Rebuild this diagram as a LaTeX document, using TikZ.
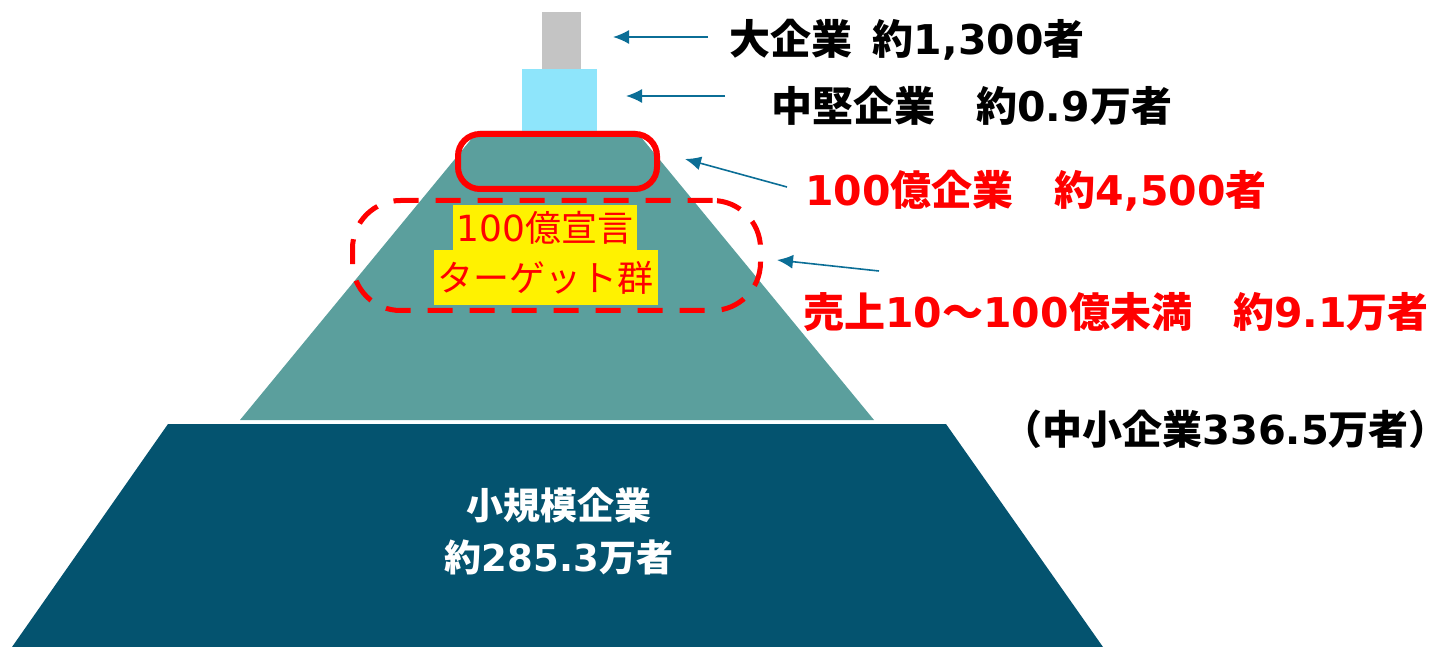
\documentclass[tikz,border=0pt]{standalone}
\usepackage{fontspec}
\setmainfont{Noto Sans CJK JP}
\newfontfamily\num{DejaVu Sans}
\usetikzlibrary{arrows.meta}
\definecolor{topco}{HTML}{C4C4C4}
\definecolor{largeco}{HTML}{8EE5FB}
\definecolor{midco}{HTML}{5B9F9D}
\definecolor{smallco}{HTML}{04536F}
\definecolor{arrowco}{HTML}{0B6E96}
\tikzset{
	pointer/.style={draw=arrowco, line width=0.8pt, -{Latex[length=8pt,width=7pt]}},
	label/.style={anchor=west, inner sep=0pt, font=\fontsize{20.5}{24}\selectfont\bfseries},
	target/.style={fill=yellow, text=red, inner sep=0pt, inner xsep=2pt, font=\fontsize{18}{20}\selectfont}
}

\begin{document}
\begin{tikzpicture}[x=0.5pt,y=-0.5pt]
	\useasboundingbox (0,0) rectangle (1448,647);
	% pyramid
	\fill[smallco] (12,647) -- (168,424) -- (946,424) -- (1103,647) -- cycle;
	\fill[midco] (240,420) -- (478,131) -- (636,131) -- (874,420) -- cycle;
	\fill[largeco] (522,69) rectangle (597,131);
	\fill[topco] (542,12) rectangle (581,69);
	% marks
	\node[draw=red, line width=3pt, rounded corners=11pt, minimum width=99.5pt, minimum height=27.5pt] (hundred) at (557.5,161.5) {};
	\node[draw=red, line width=2.5pt, dash pattern=on 12.5pt off 8.5pt, rounded corners=24pt, minimum width=204pt, minimum height=55pt] (range) at (556.5,255.5) {};
	\node[target, minimum height=22.5pt] (sengen) at (545,227.5) {{\num 100}億宣言};
	\node[target, minimum height=27.5pt] (group) at (545.5,277.5) {ターゲット群};
	\node[align=center, text=white, font=\fontsize{18.5}{26}\selectfont\bfseries] (small) at (559,531) {小規模企業\\約{\num 285.3}万者};
	% labels
	\node[label] (large) at (729,40) {大企業\hspace{0.5em}約{\num 1,300}者};
	\node[label] (middle) at (771,106) {中堅企業\hspace{1em}約{\num 0.9}万者};
	\node[label, text=red] (hundredtxt) at (805,191) {{\num 100}億企業\hspace{1em}約{\num 4,500}者};
	\node[label, text=red] (rangetxt) at (803,312) {売上{\num 10}～{\num 100}億未満\hspace{1em}約{\num 9.1}万者};
	\node[label, font=\fontsize{20}{24}\selectfont\bfseries] (sme) at (1002,429) {（中小企業{\num 336.5}万者）};
	% arrows
	\coordinate (l1) at (708,37);
	\coordinate (l1tip) at (613,37);
	\coordinate (l2) at (725,96);
	\coordinate (l2tip) at (626,96);
	\coordinate (l3) at (787,187);
	\coordinate (l3tip) at (685,159);
	\coordinate (l4) at (879,271);
	\coordinate (l4tip) at (777,260);
	\draw[pointer] (l1) -- (l1tip);
	\draw[pointer] (l2) -- (l2tip);
	\draw[pointer] (l3) -- (l3tip);
	\draw[pointer] (l4) -- (l4tip);
\end{tikzpicture}
\end{document}
